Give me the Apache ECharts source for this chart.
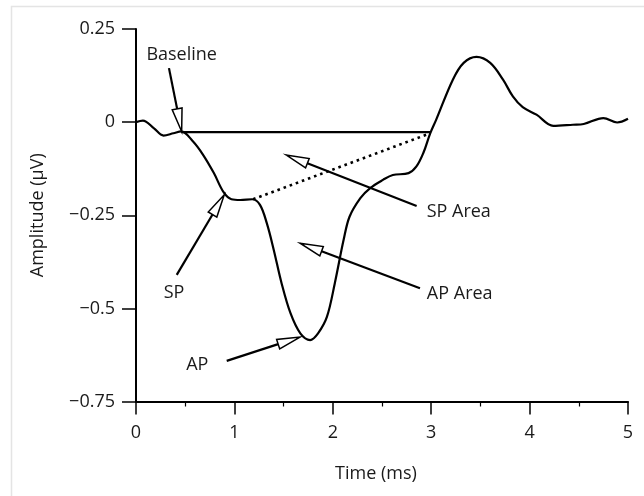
<!DOCTYPE html>
<html>
<head>
<meta charset="utf-8">
<script src="https://cdn.jsdelivr.net/npm/echarts@6/dist/echarts.min.js"></script>
<style>
html,body{margin:0;padding:0;background:#fff;}
#chart{width:644px;height:496px;}
</style>
</head>
<body>
<div id="chart"></div>
<script>
// ---- data ----
var timeMs = [0, 0.07, 0.18, 0.28, 0.38, 0.46, 0.58, 0.68, 0.79, 0.89, 0.97, 1.06, 1.18, 1.26, 1.33, 1.40, 1.48, 1.57, 1.67, 1.77, 1.85, 1.94, 2.02, 2.11, 2.17, 2.28, 2.38, 2.51, 2.61, 2.77, 2.85, 2.92, 2.99, 3.05, 3.22, 3.33, 3.46, 3.60, 3.73, 3.83, 3.93, 4.07, 4.24, 4.44, 4.55, 4.75, 4.89, 5.0];
var amplitude = [0, 0.004, -0.016, -0.036, -0.030, -0.025, -0.052, -0.087, -0.136, -0.188, -0.207, -0.209, -0.207, -0.222, -0.272, -0.343, -0.433, -0.513, -0.567, -0.585, -0.567, -0.523, -0.433, -0.316, -0.254, -0.204, -0.177, -0.155, -0.142, -0.137, -0.119, -0.083, -0.030, 0.006, 0.114, 0.159, 0.175, 0.159, 0.114, 0.069, 0.040, 0.020, -0.010, -0.007, -0.005, 0.011, -0.001, 0.009];

var baselineX = [0.46, 2.99];
var baselineY = [-0.027, -0.027];
var spLineX = [1.19, 2.99];
var spLineY = [-0.207, -0.030];

var labelNames = ['Baseline', 'SP', 'AP', 'SP Area', 'AP Area'];
var labelX = [0.464, 0.386, 0.623, 3.28, 3.29];
var labelY = [0.181, -0.458, -0.652, -0.240, -0.460];

var arrowStartX = [0.335, 0.414, 0.922, 2.852, 2.886];
var arrowStartY = [0.145, -0.410, -0.641, -0.225, -0.446];
var arrowTipX = [0.464, 0.897, 1.667, 1.524, 1.667];
var arrowTipY = [-0.025, -0.195, -0.577, -0.088, -0.325];

var xTicks = [0, 1, 2, 3, 4, 5];
var yTickLabels = {'0.25': '0.25', '0': '0', '-0.25': '\u22120.25', '-0.5': '\u22120.5', '-0.75': '\u22120.75'};

// ---- build ----
var FONT = 'Open Sans';
var FS = 18;
var INK = '#1a1a1a';
function pairs(xs, ys) { return xs.map(function (x, i) { return [x, ys[i]]; }); }

var arrowData = arrowStartX.map(function (x, i) { return [x, arrowStartY[i], arrowTipX[i], arrowTipY[i]]; });
var labelData = labelNames.map(function (n, i) { return [labelX[i], labelY[i], n]; });

var chart = echarts.init(document.getElementById('chart'), null, {renderer: 'canvas'});
chart.setOption({
  animation: false,
  backgroundColor: '#fff',
  graphic: [{
    type: 'rect', silent: true, z: -10,
    shape: {x: 11.5, y: 6.5, width: 700, height: 600},
    style: {fill: 'none', stroke: '#e4e4e4', lineWidth: 1.5}
  }],
  grid: {left: 136, right: 16, top: 29, bottom: 94.5, containLabel: false},
  xAxis: {
    type: 'value', min: 0, max: 5, interval: 1,
    name: 'Time (ms)', nameLocation: 'middle', nameGap: 63,
    nameTextStyle: {fontFamily: FONT, fontSize: FS, color: INK, padding: [0, 12, 0, 0]},
    axisLine: {show: true, onZero: false, lineStyle: {color: '#000', width: 2}},
    axisTick: {show: true, inside: false, length: 13, lineStyle: {color: '#000', width: 1.5}},
    minorTick: {show: true, splitNumber: 2, length: 5, lineStyle: {color: '#000', width: 1.2}},
    axisLabel: {fontFamily: FONT, fontSize: FS, color: INK, margin: 22},
    splitLine: {show: false}, minorSplitLine: {show: false}
  },
  yAxis: {
    type: 'value', min: -0.75, max: 0.25, interval: 0.25,
    name: 'Amplitude (\u03bcV)', nameLocation: 'middle', nameGap: 89, nameRotate: 90,
    nameTextStyle: {fontFamily: FONT, fontSize: FS, color: INK},
    axisLine: {show: true, onZero: false, lineStyle: {color: '#000', width: 2}},
    axisTick: {show: true, inside: false, length: 14, lineStyle: {color: '#000', width: 1.5}},
    axisLabel: {fontFamily: FONT, fontSize: FS, color: INK, margin: 21,
      formatter: function (v) { var k = String(Math.round(v * 100) / 100); return yTickLabels[k] !== undefined ? yTickLabels[k] : k; }},
    splitLine: {show: false}
  },
  series: [
    {
      type: 'line', data: pairs(timeMs, amplitude), smooth: 0.35, symbol: 'none',
      lineStyle: {color: '#000', width: 2.2}, z: 5, clip: false
    },
    {
      type: 'line', data: pairs(baselineX, baselineY), symbol: 'none',
      lineStyle: {color: '#000', width: 2.2}, z: 4
    },
    {
      type: 'line', data: pairs(spLineX, spLineY), symbol: 'none',
      lineStyle: {color: '#000', width: 2.6, type: [2.6, 3.9], cap: 'butt'}, z: 4
    },
    {
      type: 'custom', coordinateSystem: 'cartesian2d', data: arrowData, clip: false, z: 6,
      encode: {x: [0, 2], y: [1, 3]},
      renderItem: function (params, api) {
        var p0 = api.coord([api.value(0), api.value(1)]);
        var p1 = api.coord([api.value(2), api.value(3)]);
        var dx = p1[0] - p0[0], dy = p1[1] - p0[1];
        var len = Math.sqrt(dx * dx + dy * dy);
        var ux = dx / len, uy = dy / len;
        var headLen = 23, halfW = 5;
        var bx = p1[0] - ux * headLen, by = p1[1] - uy * headLen;
        var nx = -uy, ny = ux;
        return {
          type: 'group',
          children: [
            {type: 'line', shape: {x1: p0[0], y1: p0[1], x2: bx, y2: by},
             style: {stroke: '#000', lineWidth: 2.2}},
            {type: 'polygon', shape: {points: [[p1[0], p1[1]], [bx + nx * halfW, by + ny * halfW], [bx - nx * halfW, by - ny * halfW]]},
             style: {fill: '#fff', stroke: '#000', lineWidth: 1.5, lineJoin: 'miter'}}
          ]
        };
      }
    },
    {
      type: 'custom', coordinateSystem: 'cartesian2d', data: labelData, clip: false, z: 7,
      encode: {x: 0, y: 1},
      renderItem: function (params, api) {
        var p = api.coord([api.value(0), api.value(1)]);
        return {
          type: 'text',
          style: {text: labelNames[params.dataIndex], x: p[0], y: p[1], align: 'center', verticalAlign: 'middle',
                  font: FS + 'px "' + FONT + '"', fill: INK}
        };
      }
    }
  ]
});
</script>
</body>
</html>
